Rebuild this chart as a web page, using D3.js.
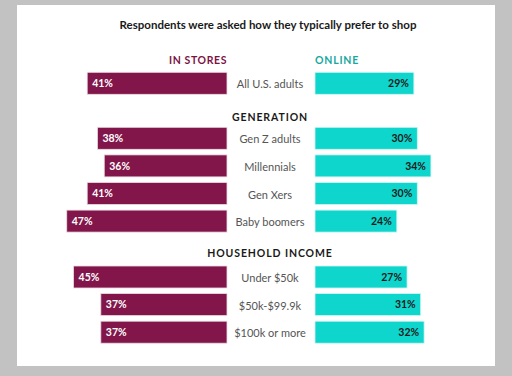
<!DOCTYPE html>
<html>
<head>
<meta charset="utf-8">
<script src="https://cdn.jsdelivr.net/npm/d3@7"></script>
<style>
  body { margin: 0; background: #c2c2c2; }
  #chart { width: 512px; height: 376px; }
  text { font-family: "Lato", "Open Sans", sans-serif; }
</style>
</head>
<body>
<div id="chart"></div>
<script>
// data
const overallLabel = ["All U.S. adults"];
const overallStores = [41];
const overallOnline = [29];

const generationLabels = ["Gen Z adults", "Millennials", "Gen Xers", "Baby boomers"];
const generationStores = [38, 36, 41, 47];
const generationOnline = [30, 34, 30, 24];

const incomeLabels = ["Under $50k", "$50k-$99.9k", "$100k or more"];
const incomeStores = [45, 37, 37];
const incomeOnline = [27, 31, 32];

const width = 512, height = 376;
const svg = d3.select("#chart").append("svg")
    .attr("width", width)
    .attr("height", height);

// white panel
svg.append("rect")
    .attr("x", 17).attr("y", 5)
    .attr("width", 478).attr("height", 361)
    .attr("fill", "#fff");

const maroon = "#82164a";
const teal = "#0fd6cc";

const leftEdge = 227;   // right end of the in-store bars
const rightEdge = 315;  // left end of the online bars
const mid = 270;

const x = d3.scaleLinear().domain([0, 50]).range([0, 170.5]);

const barH = 22;
const step = 27.6;

svg.append("text")
    .attr("x", 268).attr("y", 29)
    .attr("text-anchor", "middle")
    .attr("font-size", 11.5)
    .attr("font-weight", 700)
    .attr("fill", "#1a1a1a")
    .text("Respondents were asked how they typically prefer to shop");

svg.append("text")
    .attr("x", leftEdge).attr("y", 64)
    .attr("text-anchor", "end")
    .attr("font-size", 10.5)
    .attr("font-weight", 700)
    .attr("letter-spacing", 0.6)
    .attr("fill", "#7c1244")
    .text("IN STORES");

svg.append("text")
    .attr("x", rightEdge).attr("y", 64)
    .attr("font-size", 10.5)
    .attr("font-weight", 700)
    .attr("letter-spacing", 0.8)
    .attr("fill", "#17a89f")
    .text("ONLINE");

function header(label, y) {
    svg.append("text")
        .attr("x", mid).attr("y", y)
        .attr("text-anchor", "middle")
        .attr("font-size", 10.5)
        .attr("font-weight", 700)
        .attr("letter-spacing", 0.9)
        .attr("fill", "#1a1a1a")
        .text(label);
}

function group(labels, stores, online, top) {
    const rows = labels.map((l, i) => ({ label: l, s: stores[i], o: online[i], y: top + i * step }));
    const g = svg.append("g");

    g.selectAll("rect.store").data(rows).join("rect")
        .attr("x", d => leftEdge - x(d.s))
        .attr("y", d => d.y)
        .attr("width", d => x(d.s))
        .attr("height", barH)
        .attr("fill", maroon)
        .attr("stroke", "#eadde3")
        .attr("stroke-width", 0.8);

    g.selectAll("rect.online").data(rows).join("rect")
        .attr("x", rightEdge)
        .attr("y", d => d.y)
        .attr("width", d => x(d.o))
        .attr("height", barH)
        .attr("fill", teal)
        .attr("stroke", "#d2f6f2")
        .attr("stroke-width", 0.8);

    g.selectAll("text.sv").data(rows).join("text")
        .attr("x", d => leftEdge - x(d.s) + 5)
        .attr("y", d => d.y + barH / 2 + 3.8)
        .attr("font-size", 10.5)
        .attr("font-weight", 700)
        .attr("fill", "#fff")
        .text(d => d.s + "%");

    g.selectAll("text.ov").data(rows).join("text")
        .attr("x", d => rightEdge + x(d.o) - 5)
        .attr("y", d => d.y + barH / 2 + 3.8)
        .attr("text-anchor", "end")
        .attr("font-size", 10.5)
        .attr("font-weight", 700)
        .attr("fill", "#1a1a1a")
        .text(d => d.o + "%");

    g.selectAll("text.cat").data(rows).join("text")
        .attr("x", mid)
        .attr("y", d => d.y + barH / 2 + 5)
        .attr("text-anchor", "middle")
        .attr("font-size", 11)
        .attr("fill", "#555")
        .text(d => d.label);
}

group(overallLabel, overallStores, overallOnline, 72.3);
header("GENERATION", 121);
group(generationLabels, generationStores, generationOnline, 127.3);
header("HOUSEHOLD INCOME", 257);
group(incomeLabels, incomeStores, incomeOnline, 266);
</script>
</body>
</html>
